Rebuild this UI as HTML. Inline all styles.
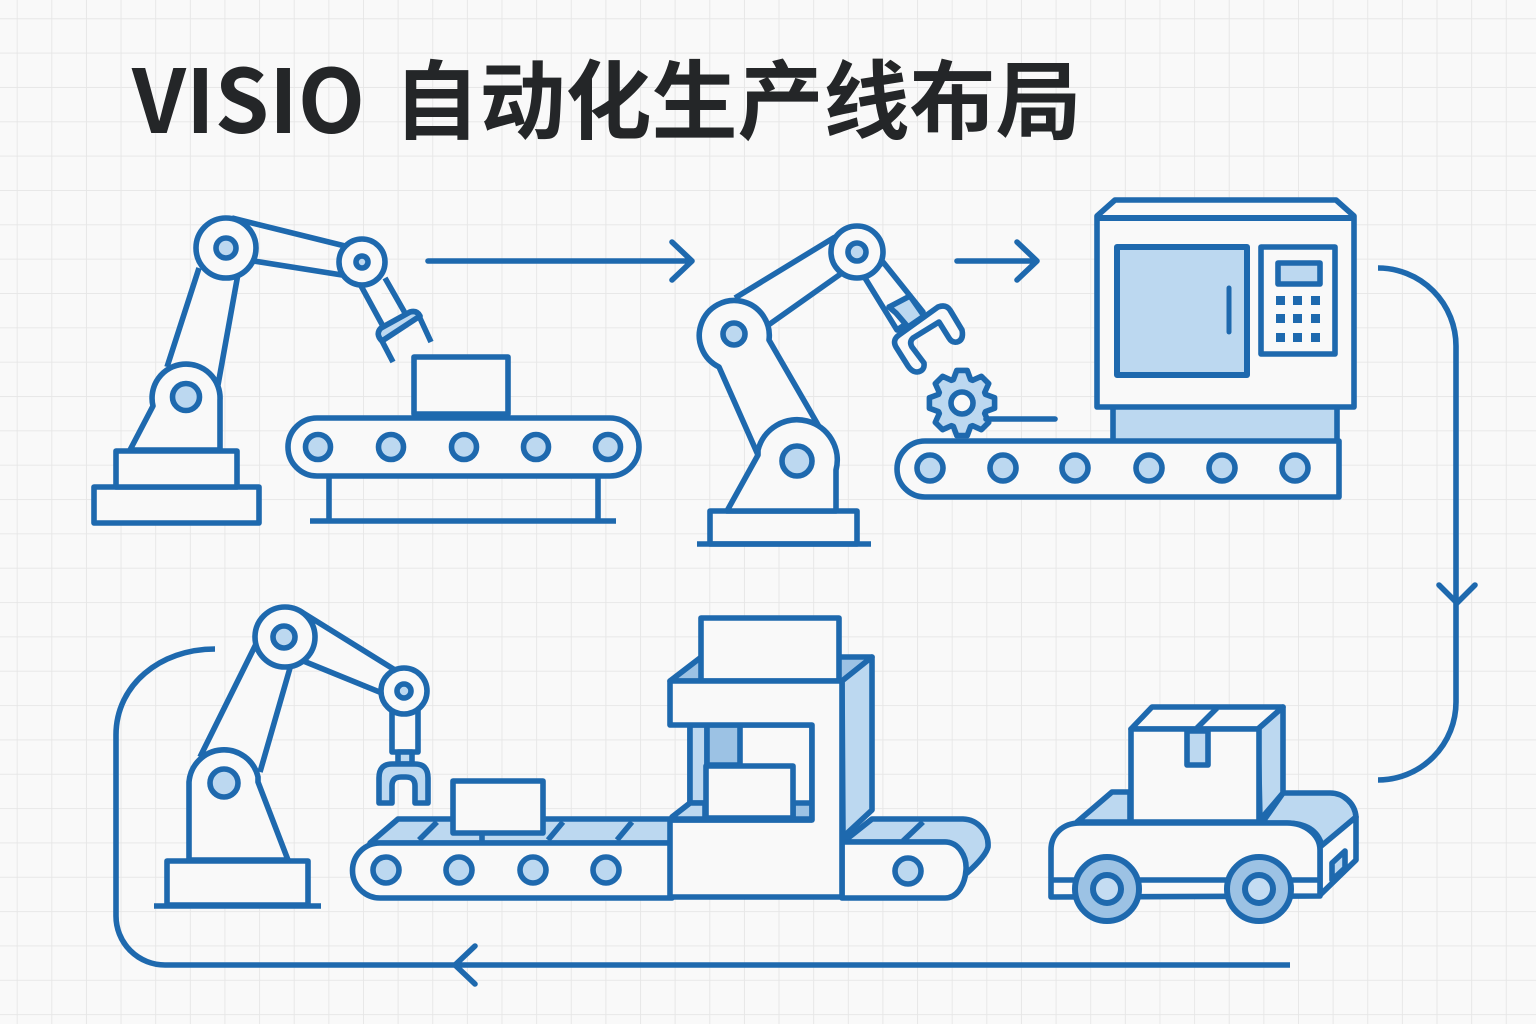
<!DOCTYPE html>
<html><head><meta charset="utf-8"><style>html,body{margin:0;padding:0;background:#f9f9f9}svg{display:block}</style></head><body>
<svg width="1536" height="1024" viewBox="0 0 1536 1024" xmlns="http://www.w3.org/2000/svg">
<defs><pattern id="g" x="16.7" y="18.3" width="34.63" height="34.34" patternUnits="userSpaceOnUse"><path d="M0 0H34.63M0 0V34.34" fill="none" stroke="#e6e6e6" stroke-width="1.8"/></pattern></defs>
<rect width="1536" height="1024" fill="#f9f9f9"/><rect width="1536" height="1024" fill="url(#g)"/>
<text x="132" y="133" font-family="'Noto Sans CJK SC',sans-serif" font-weight="700" font-size="88" fill="#242628" textLength="233" lengthAdjust="spacingAndGlyphs">VISIO</text>
<text x="393.5" y="132" font-family="'Liberation Sans','Noto Sans CJK SC',sans-serif" font-weight="700" font-size="86" fill="#242628">自动化生产线布局</text>
<g fill="#f9f9f9" stroke="#1e69ae" stroke-width="5.6" stroke-linejoin="round" stroke-linecap="butt">
<!-- connectors -->
<g fill="none"><path d="M428 261H692M672 242L692 261L672 280" stroke-linecap="round"/><path d="M957 261H1037M1017 242L1037 261L1017 280" stroke-linecap="round"/><path d="M1378 268A78 78 0 0 1 1456 346V702A78 78 0 0 1 1378 780"/><path d="M1439 585L1457 603L1475 585" stroke-linecap="round"/><path d="M1290 965H165A49 49 0 0 1 116 916V735C116 685 160 649 215 649"/><path d="M475 946L455 965L475 984" stroke-linecap="round"/></g>
<!-- robot 1 -->
<rect x="94" y="487" width="165" height="36"/><rect x="116" y="451" width="121" height="36"/>
<path d="M168 365L200 265H250L238 270L218 385Z" stroke="none"/>
<path d="M167 367L199 268M218 385L238 274" fill="none"/>
<path d="M130 450L153 406A34 34 0 1 1 220 400V450Z"/>
<circle cx="186" cy="397" r="13.5" fill="#bcd8f0"/>
<path d="M362 262L403 328L382 342Z" stroke="none"/>
<path d="M360 284L384 328M385 278L405 313" fill="none"/>
<path d="M232 218L345 246M254 261L342 275" fill="none"/>
<circle cx="226" cy="248" r="30"/><circle cx="226" cy="248" r="10" fill="#bcd8f0"/>
<circle cx="362" cy="262" r="23"/><circle cx="362" cy="262" r="6" fill="#bcd8f0"/>
<path d="M382 341Q375 334 381 328L410 312Q417 310 420 316Z" fill="#bcd8f0"/>
<path d="M382 341L393 362M419 316L431 342" fill="none"/>
<rect x="414" y="357" width="94" height="57"/>
<rect x="288" y="418" width="351" height="58" rx="29"/>
<rect x="414" y="412" width="94" height="6" fill="#1e69ae" stroke="none"/>
<g fill="#bcd8f0"><circle cx="318" cy="447" r="12.5"/><circle cx="391" cy="447" r="12.5"/><circle cx="464" cy="447" r="12.5"/><circle cx="536" cy="447" r="12.5"/><circle cx="608" cy="447" r="12.5"/></g>
<path d="M329 476V521M598 476V521M310 521H616" fill="none"/>
<!-- robot 2 -->
<rect x="710" y="511" width="147" height="33"/><path d="M697 544H871" fill="none"/>
<path d="M735 298L835 237L842 273L767 326Z" stroke="none"/>
<path d="M735 298L835 237M767 326L842 273" fill="none"/>
<path d="M719 367A35 35 0 1 1 769 340L821 430L790 440L758 455Z"/>
<circle cx="734" cy="334" r="11" fill="#bcd8f0"/>
<path d="M758 455L727 511H836V470A39 39 0 0 0 758 450Z"/>
<circle cx="797" cy="461" r="15" fill="#bcd8f0"/>
<path d="M865 278L897 330L923 312L883 262Z"/>
<path d="M889 307L910 296L924 316L908 327L896 313Z" fill="#bcd8f0"/>
<circle cx="857" cy="252" r="26"/><circle cx="857" cy="252" r="9" fill="#bcd8f0"/>
<path d="M899 335L938 307Q946 304 950 310L962 330Q964 340 957 342Q952 343 949 338L939 322L913 338Q909 342 912 347L924 363Q925 371 917 372Q912 372 908 366L896 347Q892 340 899 335Z"/>
<g transform="translate(962 403)"><polygon fill="#bcd8f0" points="-8.6,-23.5 -5.2,-32.6 5.2,-32.6 8.6,-23.5 10.5,-22.7 19.4,-26.7 26.7,-19.4 22.7,-10.5 23.5,-8.6 32.6,-5.2 32.6,5.2 23.5,8.6 22.7,10.5 26.7,19.4 19.4,26.7 10.5,22.7 8.6,23.5 5.2,32.6 -5.2,32.6 -8.6,23.5 -10.5,22.7 -19.4,26.7 -26.7,19.4 -22.7,10.5 -23.5,8.6 -32.6,5.2 -32.6,-5.2 -23.5,-8.6 -22.7,-10.5 -26.7,-19.4 -19.4,-26.7 -10.5,-22.7"/><circle r="11"/></g>
<path d="M986 419H1055" fill="none" stroke-linecap="round"/>
<!-- machine -->
<rect x="1113" y="405" width="224" height="37" fill="#bcd8f0"/>
<path d="M1097 216L1115 200H1336L1354 216V407H1097Z"/><path d="M1097 218H1354" fill="none" stroke-width="6"/>
<rect x="1117" y="247" width="130" height="128" fill="#bcd8f0" stroke-width="6"/><path d="M1229 288V332" fill="none" stroke-width="5" stroke-linecap="round"/>
<rect x="1261" y="247" width="74" height="107"/><rect x="1278" y="263" width="42" height="21" fill="#bcd8f0"/>
<g fill="#1e69ae" stroke="none"><rect x="1276" y="296" width="9" height="9"/><rect x="1293" y="296" width="9" height="9"/><rect x="1311" y="296" width="9" height="9"/><rect x="1276" y="314" width="9" height="9"/><rect x="1293" y="314" width="9" height="9"/><rect x="1311" y="314" width="9" height="9"/><rect x="1276" y="333" width="9" height="9"/><rect x="1293" y="333" width="9" height="9"/><rect x="1311" y="333" width="9" height="9"/></g>
<path d="M1339 441H925A28 28 0 0 0 925 497H1339Z"/>
<g fill="#bcd8f0"><circle cx="930" cy="468" r="13"/><circle cx="1003" cy="468" r="13"/><circle cx="1075" cy="468" r="13"/><circle cx="1149" cy="468" r="13"/><circle cx="1222" cy="468" r="13"/><circle cx="1295" cy="468" r="13"/></g>
<!-- robot 3 -->
<rect x="167" y="861" width="141" height="44"/><path d="M154 906H321" fill="none"/>
<path d="M255 645L205 748L260 772L290 668Z" stroke="none"/><path d="M258 640L200 757M290 668L260 772" fill="none"/>
<path d="M300 611L395 670L382 693L296 658Z" stroke="none"/><path d="M300 611L395 670M296 658L382 693" fill="none"/>
<path d="M189 860V782A35 35 0 0 1 258 777V782L288 860Z"/>
<circle cx="224" cy="783" r="14" fill="#bcd8f0"/>
<rect x="392" y="710" width="26" height="42"/>
<rect x="398" y="752" width="14" height="12" fill="#bcd8f0"/>
<circle cx="285" cy="637" r="30"/><circle cx="284" cy="637" r="11" fill="#bcd8f0"/>
<circle cx="404" cy="691" r="23"/><circle cx="404" cy="691" r="7" fill="#bcd8f0"/>
<path d="M379 803V778Q379 764 392 764H415Q428 764 428 778V803H415V786Q415 777 406 777H401Q392 777 392 786V803Z" fill="#bcd8f0"/>
<!-- left conveyor -->
<path d="M370 843L398 819H672V843Z" fill="#bcd8f0"/>
<path d="M437 822L419 840M563 822L548 840M632 822L617 840" fill="none"/>
<rect x="453" y="781" width="90" height="52"/><path d="M482 833V842" fill="none"/>
<path d="M672 843H380A27.5 27.5 0 0 0 380 898H672Z"/>
<g fill="#bcd8f0"><circle cx="386" cy="870" r="13"/><circle cx="459" cy="870" r="13"/><circle cx="533" cy="870" r="13"/><circle cx="606" cy="870" r="13"/></g>
<!-- right conveyor -->
<path d="M843 842L872 819H963A26 26 0 0 1 988 847Q986 856 967 873Q961 842 945 842Z" fill="#bcd8f0"/>
<path d="M923 822L903 841" fill="none"/>
<path d="M842 842H945C959 842 967 857 966 870C965 885 957 898 945 898H842Z"/>
<circle cx="908" cy="871" r="13" fill="#bcd8f0"/>
<!-- press -->
<path d="M670 681L700 658H715V681Z" fill="#9cc2e4"/>
<path d="M830 657H872L842 681H830Z" fill="#9cc2e4"/>
<path d="M842 681L872 657V810L843 837Z" fill="#bcd8f0"/>
<rect x="701" y="618" width="138" height="63"/>
<rect x="690" y="725" width="122" height="94"/>
<rect x="690" y="725" width="17" height="78" fill="#bcd8f0"/>
<rect x="707" y="725" width="33" height="40" fill="#9cc2e4"/>
<path d="M672 817L690 803H705V819H672Z" fill="#bcd8f0"/>
<rect x="793" y="803" width="19" height="16" fill="#9cc2e4"/>
<rect x="706" y="766" width="87" height="52"/>
<path d="M670 681H842V897H670V820H812V725H670Z"/>
<path d="M670 820H812" fill="none"/>
<!-- AGV -->
<path d="M1130 792H1112L1077 822H1130Z" fill="#bcd8f0"/>
<path d="M1283 793H1330A26 26 0 0 1 1356 817L1322 846C1318 830 1305 823 1287 823H1262Z" fill="#bcd8f0"/>
<path d="M1131 729L1152 707H1283L1258 729Z"/><path d="M1217 708L1197 728" fill="none"/>
<path d="M1258 729L1283 707V793L1260 820Z" fill="#bcd8f0"/>
<rect x="1131" y="729" width="128" height="93"/>
<path d="M1187 731V765H1208V731Z" fill="#bcd8f0"/>
<path d="M1320 847L1356 817V860L1320 895Z"/>
<path d="M1332 880V863L1345 851V868Z" fill="#bcd8f0"/>
<path d="M1051 897V850C1051 835 1062 823 1080 823H1287C1305 823 1320 835 1320 850V896Z"/>
<path d="M1051 880H1320" fill="none"/>
<g fill="#9cc2e4" stroke-width="6"><circle cx="1107" cy="889" r="32"/><circle cx="1259" cy="889" r="32"/></g>
<g fill="#c4dcf2" stroke-width="6"><circle cx="1107" cy="889" r="14"/><circle cx="1259" cy="889" r="14"/></g>
</g>
</svg>
</body></html>
